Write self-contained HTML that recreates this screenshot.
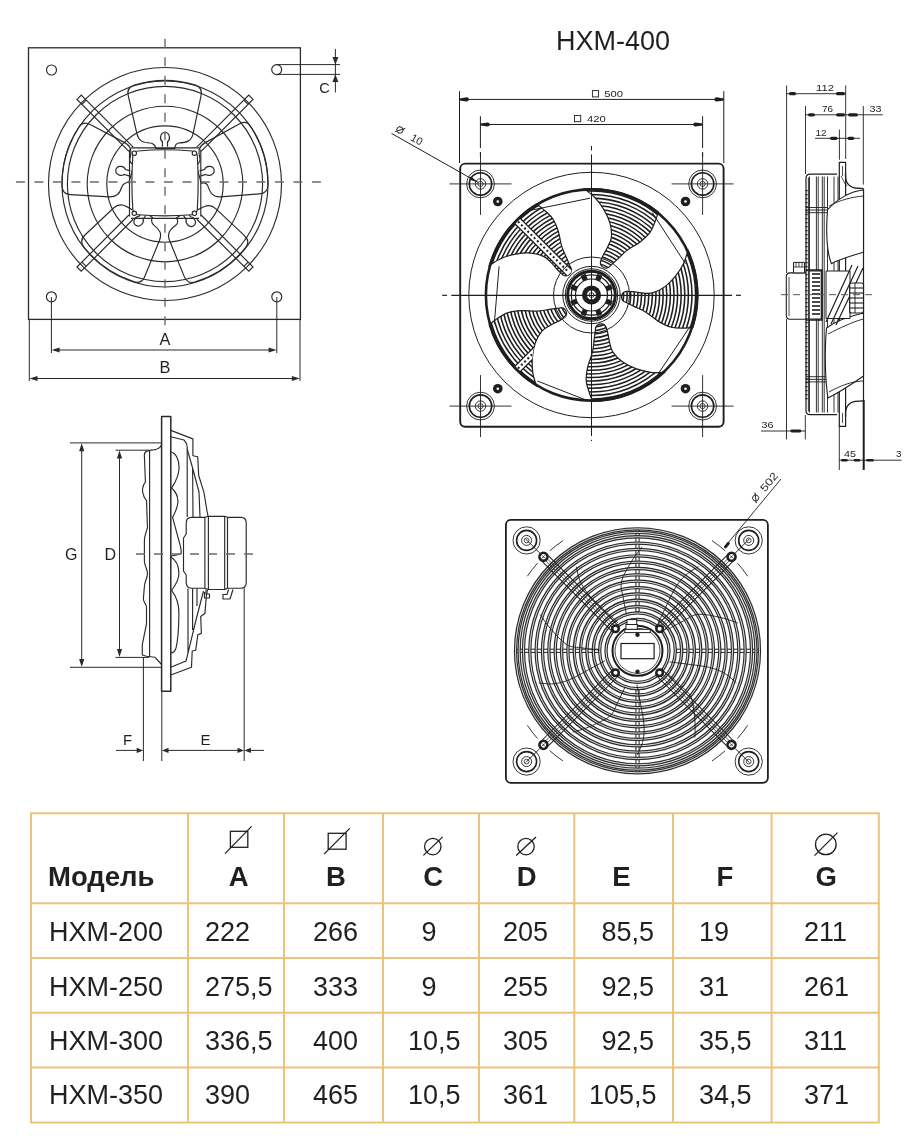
<!DOCTYPE html>
<html><head><meta charset="utf-8">
<style>
html,body{margin:0;padding:0;background:#fff;}
body{width:920px;height:1148px;overflow:hidden;position:relative;}
svg{position:absolute;left:0;top:0;will-change:transform;}
</style></head><body>
<svg width="920" height="1148" viewBox="0 0 920 1148">
<!-- title -->
<text x="556" y="50.2" font-family="Liberation Sans, sans-serif" font-size="27" fill="#231f20">HXM-400</text>
<!-- table -->
<g stroke="#ebc47c" stroke-width="2" fill="none">
<line x1="30" y1="813.2" x2="879.8" y2="813.2"/>
<line x1="30" y1="903.2" x2="879.8" y2="903.2"/>
<line x1="30" y1="958" x2="879.8" y2="958"/>
<line x1="30" y1="1012.8" x2="879.8" y2="1012.8"/>
<line x1="30" y1="1067.5" x2="879.8" y2="1067.5"/>
<line x1="30" y1="1122.5" x2="879.8" y2="1122.5"/>
<line x1="31" y1="813.2" x2="31" y2="1122.5"/>
<line x1="188" y1="813.2" x2="188" y2="1122.5"/>
<line x1="284" y1="813.2" x2="284" y2="1122.5"/>
<line x1="383" y1="813.2" x2="383" y2="1122.5"/>
<line x1="479" y1="813.2" x2="479" y2="1122.5"/>
<line x1="574.3" y1="813.2" x2="574.3" y2="1122.5"/>
<line x1="673" y1="813.2" x2="673" y2="1122.5"/>
<line x1="771.6" y1="813.2" x2="771.6" y2="1122.5"/>
<line x1="878.8" y1="813.2" x2="878.8" y2="1122.5"/>
</g>
<g font-family="Liberation Sans, sans-serif" font-size="27" fill="#231f20">
<text x="49" y="941">HXM-200</text>
<text x="205" y="941">222</text>
<text x="313" y="941">266</text>
<text x="421.5" y="941">9</text>
<text x="503" y="941">205</text>
<text x="601.5" y="941">85,5</text>
<text x="699" y="941">19</text>
<text x="804" y="941">211</text>
<text x="49" y="995.5">HXM-250</text>
<text x="205" y="995.5">275,5</text>
<text x="313" y="995.5">333</text>
<text x="421.5" y="995.5">9</text>
<text x="503" y="995.5">255</text>
<text x="601.5" y="995.5">92,5</text>
<text x="699" y="995.5">31</text>
<text x="804" y="995.5">261</text>
<text x="49" y="1050">HXM-300</text>
<text x="205" y="1050">336,5</text>
<text x="313" y="1050">400</text>
<text x="408" y="1050">10,5</text>
<text x="503" y="1050">305</text>
<text x="601.5" y="1050">92,5</text>
<text x="699" y="1050">35,5</text>
<text x="804" y="1050">311</text>
<text x="49" y="1104">HXM-350</text>
<text x="205" y="1104">390</text>
<text x="313" y="1104">465</text>
<text x="408" y="1104">10,5</text>
<text x="503" y="1104">361</text>
<text x="589" y="1104">105,5</text>
<text x="699" y="1104">34,5</text>
<text x="804" y="1104">371</text>
</g>
<g font-family="Liberation Sans, sans-serif" font-weight="bold" font-size="27.5" fill="#231f20">
<text x="48" y="886">Модель</text>
<text x="238.7" y="886" text-anchor="middle">A</text>
<text x="336" y="886" text-anchor="middle">B</text>
<text x="433.1" y="886" text-anchor="middle">C</text>
<text x="526.8" y="886" text-anchor="middle">D</text>
<text x="621.3" y="886" text-anchor="middle">E</text>
<text x="725" y="886" text-anchor="middle">F</text>
<text x="826.2" y="886" text-anchor="middle">G</text>
</g>
<g stroke="#231f20" stroke-width="1.3" fill="none">
<rect x="230.4" y="831.3" width="17.4" height="16"/><line x1="225" y1="853.6" x2="251.6" y2="826.4"/>
<rect x="328.2" y="833.3" width="17.9" height="15.9"/><line x1="324.1" y1="854.1" x2="349.7" y2="828.4"/>
<circle cx="432.8" cy="846.6" r="8.2"/><line x1="423.4" y1="855.4" x2="442.7" y2="836.9"/>
<circle cx="526" cy="846.6" r="8.2"/><line x1="516.2" y1="855.4" x2="536" y2="836.9"/>
<circle cx="825.8" cy="844.4" r="10.3"/><line x1="814.5" y1="855.6" x2="837.5" y2="832.6"/>
</g>
<!-- d1 -->
<g stroke="#2a2a2a" stroke-width="1.15" fill="none">
<rect x="28.5" y="47.8" width="271.9" height="271.6" stroke-width="1.3"/>
<circle cx="51.5" cy="70" r="5"/>
<circle cx="276.7" cy="69.6" r="5"/>
<circle cx="51.4" cy="296.8" r="5"/>
<circle cx="276.8" cy="296.8" r="5"/>
<circle cx="165" cy="184" r="116.5"/>
<circle cx="165" cy="184" r="103"/>
<circle cx="165" cy="184" r="97.6"/>
<circle cx="165" cy="184" r="77.8"/>
<circle cx="165" cy="184" r="58.2"/>
<g transform="translate(165,183.5) rotate(0) scale(1.02)"><path d="M -36,-86 Q -38,-94 -30,-96.4 A 101 101 0 0 1 30,-96.4 Q 37,-94 35.3,-86 L 27.5,-48.6 C 26,-42 22,-40 13,-39.7 C 11,-39 9.6,-37 9.6,-34.3 L -9,-34.3 C -9,-37 -12,-39.7 -14.4,-39.7 C -22,-40 -26,-42 -27.5,-48.6 Z"/><path d="M -2.5,-36 L -2.5,-41 C -5.5,-43 -5,-50 0,-50 C 5,-50 5.5,-43 2.5,-41 L 2.5,-36"/></g>
<g transform="translate(165,183.5) rotate(74) scale(1.02)"><path d="M -36,-86 Q -38,-94 -30,-96.4 A 101 101 0 0 1 30,-96.4 Q 37,-94 35.3,-86 L 27.5,-48.6 C 26,-42 22,-40 13,-39.7 C 11,-39 9.6,-37 9.6,-34.3 L -9,-34.3 C -9,-37 -12,-39.7 -14.4,-39.7 C -22,-40 -26,-42 -27.5,-48.6 Z"/><path d="M -2.5,-36 L -2.5,-41 C -5.5,-43 -5,-50 0,-50 C 5,-50 5.5,-43 2.5,-41 L 2.5,-36"/></g>
<g transform="translate(165,183.5) rotate(146) scale(1.02)"><path d="M -36,-86 Q -38,-94 -30,-96.4 A 101 101 0 0 1 30,-96.4 Q 37,-94 35.3,-86 L 27.5,-48.6 C 26,-42 22,-40 13,-39.7 C 11,-39 9.6,-37 9.6,-34.3 L -9,-34.3 C -9,-37 -12,-39.7 -14.4,-39.7 C -22,-40 -26,-42 -27.5,-48.6 Z"/><path d="M -2.5,-36 L -2.5,-41 C -5.5,-43 -5,-50 0,-50 C 5,-50 5.5,-43 2.5,-41 L 2.5,-36"/></g>
<g transform="translate(165,183.5) rotate(215) scale(1.02)"><path d="M -36,-86 Q -38,-94 -30,-96.4 A 101 101 0 0 1 30,-96.4 Q 37,-94 35.3,-86 L 27.5,-48.6 C 26,-42 22,-40 13,-39.7 C 11,-39 9.6,-37 9.6,-34.3 L -9,-34.3 C -9,-37 -12,-39.7 -14.4,-39.7 C -22,-40 -26,-42 -27.5,-48.6 Z"/><path d="M -2.5,-36 L -2.5,-41 C -5.5,-43 -5,-50 0,-50 C 5,-50 5.5,-43 2.5,-41 L 2.5,-36"/></g>
<g transform="translate(165,183.5) rotate(286) scale(1.02)"><path d="M -36,-86 Q -38,-94 -30,-96.4 A 101 101 0 0 1 30,-96.4 Q 37,-94 35.3,-86 L 27.5,-48.6 C 26,-42 22,-40 13,-39.7 C 11,-39 9.6,-37 9.6,-34.3 L -9,-34.3 C -9,-37 -12,-39.7 -14.4,-39.7 C -22,-40 -26,-42 -27.5,-48.6 Z"/><path d="M -2.5,-36 L -2.5,-41 C -5.5,-43 -5,-50 0,-50 C 5,-50 5.5,-43 2.5,-41 L 2.5,-36"/></g>
<g transform="translate(165,183.2) rotate(-45)"><path d="M -3,-48 L -3,-121.5 L 3,-121.5 L 3,-48" /><line x1="-3" y1="-114.5" x2="3" y2="-114.5"/></g>
<g transform="translate(165,183.2) rotate(45)"><path d="M -3,-48 L -3,-121.5 L 3,-121.5 L 3,-48" /><line x1="-3" y1="-114.5" x2="3" y2="-114.5"/></g>
<g transform="translate(165,183.2) rotate(135)"><path d="M -3,-48 L -3,-121.5 L 3,-121.5 L 3,-48" /><line x1="-3" y1="-114.5" x2="3" y2="-114.5"/></g>
<g transform="translate(165,183.2) rotate(225)"><path d="M -3,-48 L -3,-121.5 L 3,-121.5 L 3,-48" /><line x1="-3" y1="-114.5" x2="3" y2="-114.5"/></g>
<path d="M 131,147.8 L 199,147.8 M 131,218.4 L 199,218.4 M 129.5,149.5 L 129.5,216.5 M 200.8,149.5 L 200.8,216.5" fill="none"/>
<path d="M 138,151 Q 165,148.5 192,151 Q 197,151 197.3,156 Q 199,182 197.3,209 Q 197,214.5 192,214.7 Q 165,217 138,214.7 Q 133,214.5 132.8,209 Q 131,182 132.8,156 Q 133,151 138,151 Z" fill="#fff"/>
<circle cx="134.3" cy="153.2" r="2.2" fill="#fff"/>
<circle cx="194.4" cy="153.2" r="2.2" fill="#fff"/>
<circle cx="134.3" cy="213.3" r="2.2" fill="#fff"/>
<circle cx="194.4" cy="213.3" r="2.2" fill="#fff"/>
</g>
<g stroke="#6a6a6a" stroke-width="1.4" stroke-dasharray="9,9.5">
<line x1="165" y1="38.7" x2="165" y2="328"/>
<line x1="15.9" y1="182" x2="330" y2="182"/>
</g>
<g stroke="#2a2a2a" stroke-width="1" fill="none">
<path d="M 276.7,64.6 L 340,64.6 M 276.7,74.4 L 340,74.4"/>
<line x1="335.4" y1="49" x2="335.4" y2="92.5"/>
<line x1="51.4" y1="297" x2="51.4" y2="353"/><line x1="276.8" y1="297" x2="276.8" y2="353"/>
<line x1="54" y1="350" x2="274" y2="350"/>
<line x1="29.3" y1="319" x2="29.3" y2="381"/><line x1="300" y1="319" x2="300" y2="381"/>
<line x1="32" y1="378.5" x2="297" y2="378.5"/>
</g>
<g fill="#2a2a2a" stroke="none">
<path d="M 51.6,350 L 59.6,347.4 L 59.6,352.6 Z"/>
<path d="M 276.6,350 L 268.6,352.6 L 268.6,347.4 Z"/>
<path d="M 29.5,378.5 L 37.5,375.9 L 37.5,381.1 Z"/>
<path d="M 299.8,378.5 L 291.8,381.1 L 291.8,375.9 Z"/>
<path d="M 335.4,64.5 L 332.4,57.0 L 338.4,57.0 Z"/>
<path d="M 335.4,74.5 L 338.4,82.0 L 332.4,82.0 Z"/>
</g>
<g font-family="Liberation Sans, sans-serif" font-size="15" fill="#231f20">
<text x="165" y="345.1" text-anchor="middle" font-size="16.3">A</text>
<text x="165" y="373.1" text-anchor="middle" font-size="16.3">B</text>
<text x="324.4" y="92.8" text-anchor="middle" font-size="14.5">C</text>
</g>
<!-- d2 -->
<g stroke="#2a2a2a" stroke-width="1.15" fill="none" stroke-linejoin="round">
<rect x="161.6" y="416.6" width="9.2" height="274.7" stroke-width="1.5"/>
<path d="M 161.6,444.2 C 161,449 156,450 149.6,450.4 C 146,451 144,453 144.4,456 L 145.4,481.8 C 142,486 142,492 143.4,494.3 C 143.5,498 146,499 146.5,500.6 L 147.5,527.7 C 146,533 144.4,536 144.4,540.3 L 144.4,561 C 144.4,566 147.5,569 147.5,573.7 C 147.5,578 144.4,582 144.4,586.2 L 143.4,598.7 C 143.4,603 146.5,604 146.5,607.1 L 146.5,623.8 L 142.3,644.7 L 142.3,655 L 146.5,656.2 L 154.8,657.2 L 161.6,664.5"/>
<line x1="149.6" y1="450.4" x2="149.6" y2="657"/>
<path d="M 170.8,452 C 176,453 179.5,460 179,469 C 178.5,478 174,484 171.6,488 C 176,492 178.5,497 177.8,503 C 177,510 174,514 172.6,517.3 L 179.9,544.4 C 181,548 181.5,551 181,553.8 C 177,555 173,556 170.8,556"/>
<path d="M 170.8,557 C 176,560 179,566 178.9,573.7 C 178.8,581 174,587 171.6,590.4 C 176,596 179,604 178.9,613.4 C 178.8,625 178,640 176,648 C 175,651 173,653 170.8,653"/>
<path d="M 170.8,430.4 L 192.9,438.9 L 192.9,455.7 L 197.7,456.7 L 198.7,475.5 L 203.9,492.2 L 207,511 L 208.1,516.5"/>
<path d="M 170.8,436.8 L 184,440 C 186,442 187.2,444 187.2,447 L 187.2,517"/>
<path d="M 187.2,449 L 192.6,468 L 193,517 M 192.6,468 L 199,492 L 200,517"/>
<path d="M 207.5,589.5 L 206.3,596.6 L 204.9,613.6 L 200.7,616.4 L 201.4,633.4 L 197.8,634.8 L 195.7,650.3 L 192.2,651 L 191.5,667.3 L 170.8,675"/>
<path d="M 170.8,667.3 L 186,661 L 188,653.2 L 188,588.5 M 188,653.2 L 196,620 L 203.5,591 M 192.6,588.5 L 192.6,630 M 197,588.5 L 197,606"/>
<path d="M 191.5,517.3 L 204.9,517.3 L 204.9,588.2 L 191.5,588.2 C 188,588.2 186.2,586 186.2,582 L 186.2,575 L 183.5,571 L 183.5,538 L 186.2,534 L 186.2,523 C 186.2,519 188,517.3 191.5,517.3 Z"/>
<path d="M 204.9,517.3 L 208.4,516.3 L 224.7,516.3 L 227.5,517.3 L 241,517.3 C 244.5,517.3 246.2,519.5 246.2,523 L 246.2,582.5 C 246.2,586 244.5,588.2 241,588.2 L 227.5,588.2 L 224.7,589.5 L 208.4,589.5 L 204.9,588.2"/>
<path d="M 208.4,516.3 L 208.4,589.5 M 224.7,516.3 L 224.7,589.5 M 227.5,517.3 L 227.5,588.2"/>
<path d="M 206,589.5 L 206,594 L 209.5,594 L 209.5,598 L 204.5,598 L 204.5,592"/>
<path d="M 228.5,589.5 L 227,594.5 L 223,594.5 L 223,599 L 230,599 L 233,589.5"/>
</g>
<line x1="136" y1="554" x2="257" y2="554" stroke="#6a6a6a" stroke-width="1.4" stroke-dasharray="9,9"/>
<g stroke="#2a2a2a" stroke-width="1" fill="none">
<line x1="70" y1="442.9" x2="161.6" y2="442.9"/><line x1="70" y1="667.3" x2="161.6" y2="667.3"/>
<line x1="81.7" y1="446" x2="81.7" y2="664"/>
<line x1="115.5" y1="450.2" x2="149" y2="450.2"/><line x1="115.5" y1="657.4" x2="149" y2="657.4"/>
<line x1="119.5" y1="453" x2="119.5" y2="654"/>
<line x1="143.4" y1="657" x2="143.4" y2="761"/><line x1="161.8" y1="691" x2="161.8" y2="761"/><line x1="244.2" y1="588.2" x2="244.2" y2="761"/>
<line x1="116" y1="750.4" x2="140" y2="750.4"/><line x1="165" y1="750.4" x2="241" y2="750.4"/><line x1="247" y1="750.4" x2="264" y2="750.4"/>
</g>
<g fill="#2a2a2a" stroke="none">
<path d="M 81.7,443.2 L 84.3,451.2 L 79.10000000000001,451.2 Z"/>
<path d="M 81.7,667 L 79.10000000000001,659.0 L 84.3,659.0 Z"/>
<path d="M 119.5,450.5 L 122.1,458.5 L 116.9,458.5 Z"/>
<path d="M 119.5,657.1 L 116.9,649.1 L 122.1,649.1 Z"/>
<path d="M 143.2,750.4 L 136.7,753.1 L 136.7,747.6999999999999 Z"/>
<path d="M 162,750.4 L 168.5,747.6999999999999 L 168.5,753.1 Z"/>
<path d="M 244,750.4 L 237.5,753.1 L 237.5,747.6999999999999 Z"/>
<path d="M 244.4,750.4 L 250.9,747.6999999999999 L 250.9,753.1 Z"/>
</g>
<g font-family="Liberation Sans, sans-serif" font-size="15" fill="#231f20">
<text x="71.3" y="560.1" text-anchor="middle" font-size="16">G</text>
<text x="110.4" y="560.1" text-anchor="middle" font-size="16">D</text>
<text x="127.7" y="745" text-anchor="middle">F</text>
<text x="205.6" y="745" text-anchor="middle">E</text>
</g>
<!-- d3 -->
<defs>
<clipPath id="hz0"><path d="M 600.56,261.19 C 601.04,260.12 602.29,257.00 603.43,254.73 C 604.56,252.46 606.04,250.48 607.37,247.58 C 608.69,244.68 610.92,241.36 611.36,237.32 C 611.80,233.29 611.24,227.92 610.03,223.36 C 608.81,218.79 606.58,214.22 604.06,209.92 C 601.54,205.62 598.23,201.09 594.90,197.56 C 591.57,194.03 585.88,190.23 584.07,188.76 A 106.5 106.5 0 0 1 658.23,212.00 C 657.83,213.29 657.14,216.37 655.80,219.72 C 654.45,223.07 652.76,228.40 650.15,232.10 C 647.54,235.80 644.00,238.87 640.14,241.92 C 636.28,244.96 630.78,247.48 626.98,250.39 C 623.19,253.31 620.10,256.86 617.36,259.40 C 614.63,261.95 611.70,264.61 610.56,265.65 A 5.6 5.6 0 0 1 600.56,261.19 Z"/></clipPath>
<clipPath id="hz1"><path d="M 626.31,291.34 C 627.49,291.40 630.85,291.46 633.37,291.70 C 635.89,291.95 638.27,292.62 641.45,292.82 C 644.63,293.01 648.53,293.90 652.46,292.87 C 656.39,291.84 661.20,289.39 665.02,286.62 C 668.85,283.85 672.32,280.13 675.43,276.24 C 678.54,272.35 681.59,267.63 683.69,263.26 C 685.79,258.88 687.30,252.20 688.02,249.99 A 106.5 106.5 0 0 1 692.90,327.56 C 691.56,327.64 688.43,328.10 684.82,328.05 C 681.21,327.99 675.63,328.33 671.24,327.22 C 666.85,326.11 662.72,323.90 658.49,321.39 C 654.26,318.88 649.94,314.64 645.86,312.14 C 641.78,309.64 637.36,308.03 634.00,306.39 C 630.65,304.74 627.11,302.96 625.74,302.28 A 5.6 5.6 0 0 1 626.31,291.34 Z"/></clipPath>
<clipPath id="hz2"><path d="M 606.01,326.85 C 606.33,327.98 607.34,331.19 607.91,333.66 C 608.48,336.13 608.59,338.60 609.42,341.68 C 610.24,344.76 610.64,348.74 612.86,352.14 C 615.09,355.53 618.93,359.32 622.77,362.07 C 626.62,364.82 631.24,366.92 635.92,368.64 C 640.60,370.35 646.04,371.75 650.85,372.35 C 655.67,372.95 662.48,372.27 664.81,372.25 A 106.5 106.5 0 0 1 592.80,401.49 C 592.30,400.24 590.86,397.43 589.77,393.98 C 588.68,390.54 586.59,385.35 586.25,380.84 C 585.91,376.33 586.69,371.71 587.73,366.90 C 588.77,362.09 591.42,356.66 592.49,351.99 C 593.57,347.33 593.69,342.62 594.19,338.92 C 594.68,335.22 595.25,331.30 595.46,329.78 A 5.6 5.6 0 0 1 606.01,326.85 Z"/></clipPath>
<clipPath id="hz3"><path d="M 564.69,317.50 C 563.68,318.11 560.86,319.94 558.63,321.15 C 556.40,322.35 554.05,323.12 551.31,324.74 C 548.56,326.36 544.83,327.80 542.15,330.85 C 539.47,333.91 536.85,338.62 535.23,343.06 C 533.61,347.50 532.81,352.52 532.41,357.49 C 532.01,362.45 532.12,368.07 532.82,372.87 C 533.53,377.67 536.01,384.05 536.65,386.29 A 106.5 106.5 0 0 1 489.23,324.71 C 490.30,323.89 492.63,321.76 495.65,319.79 C 498.68,317.82 503.12,314.41 507.38,312.88 C 511.64,311.35 516.30,310.87 521.21,310.58 C 526.12,310.30 532.07,311.40 536.85,311.19 C 541.63,310.98 546.20,309.84 549.90,309.32 C 553.60,308.81 557.52,308.31 559.05,308.11 A 5.6 5.6 0 0 1 564.69,317.50 Z"/></clipPath>
<clipPath id="hz4"><path d="M 562.83,274.92 C 561.98,274.11 559.48,271.86 557.74,270.02 C 555.99,268.18 554.64,266.11 552.37,263.87 C 550.10,261.64 547.74,258.41 544.09,256.61 C 540.45,254.81 535.22,253.51 530.51,253.09 C 525.81,252.67 520.75,253.20 515.85,254.10 C 510.95,254.99 505.55,256.55 501.10,258.48 C 496.65,260.40 491.12,264.45 489.13,265.64 A 106.5 106.5 0 0 1 536.33,203.90 C 537.40,204.73 540.06,206.42 542.75,208.83 C 545.44,211.25 549.87,214.66 552.46,218.37 C 555.04,222.09 556.71,226.46 558.25,231.14 C 559.80,235.81 560.28,241.83 561.72,246.40 C 563.16,250.96 565.44,255.08 566.90,258.52 C 568.35,261.96 569.85,265.63 570.44,267.05 A 5.6 5.6 0 0 1 562.83,274.92 Z"/></clipPath>
</defs>
<rect x="460.2" y="163.6" width="263.4" height="263.1" rx="5" ry="5" fill="none" stroke="#1e1e1e" stroke-width="1.9"/>
<g stroke="#1e1e1e" fill="none">
<circle cx="591.5" cy="295.0" r="122.7" stroke-width="1"/>
<g clip-path="url(#hz0)" stroke-width="1.55"><circle cx="591.5" cy="295.0" r="28.5"/><circle cx="591.5" cy="295.0" r="32.1"/><circle cx="591.5" cy="295.0" r="35.7"/><circle cx="591.5" cy="295.0" r="39.3"/><circle cx="591.5" cy="295.0" r="42.9"/><circle cx="591.5" cy="295.0" r="46.5"/><circle cx="591.5" cy="295.0" r="50.1"/><circle cx="591.5" cy="295.0" r="53.7"/><circle cx="591.5" cy="295.0" r="57.3"/><circle cx="591.5" cy="295.0" r="60.9"/><circle cx="591.5" cy="295.0" r="64.5"/><circle cx="591.5" cy="295.0" r="68.1"/><circle cx="591.5" cy="295.0" r="71.7"/><circle cx="591.5" cy="295.0" r="75.3"/><circle cx="591.5" cy="295.0" r="78.9"/><circle cx="591.5" cy="295.0" r="82.5"/><circle cx="591.5" cy="295.0" r="86.1"/><circle cx="591.5" cy="295.0" r="89.7"/><circle cx="591.5" cy="295.0" r="93.3"/><circle cx="591.5" cy="295.0" r="96.9"/><circle cx="591.5" cy="295.0" r="100.5"/><circle cx="591.5" cy="295.0" r="104.1"/><circle cx="591.5" cy="295.0" r="107.7"/></g>
<g clip-path="url(#hz1)" stroke-width="1.55"><circle cx="591.5" cy="295.0" r="28.5"/><circle cx="591.5" cy="295.0" r="32.1"/><circle cx="591.5" cy="295.0" r="35.7"/><circle cx="591.5" cy="295.0" r="39.3"/><circle cx="591.5" cy="295.0" r="42.9"/><circle cx="591.5" cy="295.0" r="46.5"/><circle cx="591.5" cy="295.0" r="50.1"/><circle cx="591.5" cy="295.0" r="53.7"/><circle cx="591.5" cy="295.0" r="57.3"/><circle cx="591.5" cy="295.0" r="60.9"/><circle cx="591.5" cy="295.0" r="64.5"/><circle cx="591.5" cy="295.0" r="68.1"/><circle cx="591.5" cy="295.0" r="71.7"/><circle cx="591.5" cy="295.0" r="75.3"/><circle cx="591.5" cy="295.0" r="78.9"/><circle cx="591.5" cy="295.0" r="82.5"/><circle cx="591.5" cy="295.0" r="86.1"/><circle cx="591.5" cy="295.0" r="89.7"/><circle cx="591.5" cy="295.0" r="93.3"/><circle cx="591.5" cy="295.0" r="96.9"/><circle cx="591.5" cy="295.0" r="100.5"/><circle cx="591.5" cy="295.0" r="104.1"/><circle cx="591.5" cy="295.0" r="107.7"/></g>
<g clip-path="url(#hz2)" stroke-width="1.55"><circle cx="591.5" cy="295.0" r="28.5"/><circle cx="591.5" cy="295.0" r="32.1"/><circle cx="591.5" cy="295.0" r="35.7"/><circle cx="591.5" cy="295.0" r="39.3"/><circle cx="591.5" cy="295.0" r="42.9"/><circle cx="591.5" cy="295.0" r="46.5"/><circle cx="591.5" cy="295.0" r="50.1"/><circle cx="591.5" cy="295.0" r="53.7"/><circle cx="591.5" cy="295.0" r="57.3"/><circle cx="591.5" cy="295.0" r="60.9"/><circle cx="591.5" cy="295.0" r="64.5"/><circle cx="591.5" cy="295.0" r="68.1"/><circle cx="591.5" cy="295.0" r="71.7"/><circle cx="591.5" cy="295.0" r="75.3"/><circle cx="591.5" cy="295.0" r="78.9"/><circle cx="591.5" cy="295.0" r="82.5"/><circle cx="591.5" cy="295.0" r="86.1"/><circle cx="591.5" cy="295.0" r="89.7"/><circle cx="591.5" cy="295.0" r="93.3"/><circle cx="591.5" cy="295.0" r="96.9"/><circle cx="591.5" cy="295.0" r="100.5"/><circle cx="591.5" cy="295.0" r="104.1"/><circle cx="591.5" cy="295.0" r="107.7"/></g>
<g clip-path="url(#hz3)" stroke-width="1.55"><circle cx="591.5" cy="295.0" r="28.5"/><circle cx="591.5" cy="295.0" r="32.1"/><circle cx="591.5" cy="295.0" r="35.7"/><circle cx="591.5" cy="295.0" r="39.3"/><circle cx="591.5" cy="295.0" r="42.9"/><circle cx="591.5" cy="295.0" r="46.5"/><circle cx="591.5" cy="295.0" r="50.1"/><circle cx="591.5" cy="295.0" r="53.7"/><circle cx="591.5" cy="295.0" r="57.3"/><circle cx="591.5" cy="295.0" r="60.9"/><circle cx="591.5" cy="295.0" r="64.5"/><circle cx="591.5" cy="295.0" r="68.1"/><circle cx="591.5" cy="295.0" r="71.7"/><circle cx="591.5" cy="295.0" r="75.3"/><circle cx="591.5" cy="295.0" r="78.9"/><circle cx="591.5" cy="295.0" r="82.5"/><circle cx="591.5" cy="295.0" r="86.1"/><circle cx="591.5" cy="295.0" r="89.7"/><circle cx="591.5" cy="295.0" r="93.3"/><circle cx="591.5" cy="295.0" r="96.9"/><circle cx="591.5" cy="295.0" r="100.5"/><circle cx="591.5" cy="295.0" r="104.1"/><circle cx="591.5" cy="295.0" r="107.7"/></g>
<g clip-path="url(#hz4)" stroke-width="1.55"><circle cx="591.5" cy="295.0" r="28.5"/><circle cx="591.5" cy="295.0" r="32.1"/><circle cx="591.5" cy="295.0" r="35.7"/><circle cx="591.5" cy="295.0" r="39.3"/><circle cx="591.5" cy="295.0" r="42.9"/><circle cx="591.5" cy="295.0" r="46.5"/><circle cx="591.5" cy="295.0" r="50.1"/><circle cx="591.5" cy="295.0" r="53.7"/><circle cx="591.5" cy="295.0" r="57.3"/><circle cx="591.5" cy="295.0" r="60.9"/><circle cx="591.5" cy="295.0" r="64.5"/><circle cx="591.5" cy="295.0" r="68.1"/><circle cx="591.5" cy="295.0" r="71.7"/><circle cx="591.5" cy="295.0" r="75.3"/><circle cx="591.5" cy="295.0" r="78.9"/><circle cx="591.5" cy="295.0" r="82.5"/><circle cx="591.5" cy="295.0" r="86.1"/><circle cx="591.5" cy="295.0" r="89.7"/><circle cx="591.5" cy="295.0" r="93.3"/><circle cx="591.5" cy="295.0" r="96.9"/><circle cx="591.5" cy="295.0" r="100.5"/><circle cx="591.5" cy="295.0" r="104.1"/><circle cx="591.5" cy="295.0" r="107.7"/></g>
<path d="M 600.56,261.19 C 601.04,260.12 602.29,257.00 603.43,254.73 C 604.56,252.46 606.04,250.48 607.37,247.58 C 608.69,244.68 610.92,241.36 611.36,237.32 C 611.80,233.29 611.24,227.92 610.03,223.36 C 608.81,218.79 606.58,214.22 604.06,209.92 C 601.54,205.62 598.23,201.09 594.90,197.56 C 591.57,194.03 585.88,190.23 584.07,188.76 A 106.5 106.5 0 0 1 658.23,212.00 C 657.83,213.29 657.14,216.37 655.80,219.72 C 654.45,223.07 652.76,228.40 650.15,232.10 C 647.54,235.80 644.00,238.87 640.14,241.92 C 636.28,244.96 630.78,247.48 626.98,250.39 C 623.19,253.31 620.10,256.86 617.36,259.40 C 614.63,261.95 611.70,264.61 610.56,265.65 A 5.6 5.6 0 0 1 600.56,261.19 Z" stroke-width="1.2"/>
<path d="M 626.31,291.34 C 627.49,291.40 630.85,291.46 633.37,291.70 C 635.89,291.95 638.27,292.62 641.45,292.82 C 644.63,293.01 648.53,293.90 652.46,292.87 C 656.39,291.84 661.20,289.39 665.02,286.62 C 668.85,283.85 672.32,280.13 675.43,276.24 C 678.54,272.35 681.59,267.63 683.69,263.26 C 685.79,258.88 687.30,252.20 688.02,249.99 A 106.5 106.5 0 0 1 692.90,327.56 C 691.56,327.64 688.43,328.10 684.82,328.05 C 681.21,327.99 675.63,328.33 671.24,327.22 C 666.85,326.11 662.72,323.90 658.49,321.39 C 654.26,318.88 649.94,314.64 645.86,312.14 C 641.78,309.64 637.36,308.03 634.00,306.39 C 630.65,304.74 627.11,302.96 625.74,302.28 A 5.6 5.6 0 0 1 626.31,291.34 Z" stroke-width="1.2"/>
<path d="M 606.01,326.85 C 606.33,327.98 607.34,331.19 607.91,333.66 C 608.48,336.13 608.59,338.60 609.42,341.68 C 610.24,344.76 610.64,348.74 612.86,352.14 C 615.09,355.53 618.93,359.32 622.77,362.07 C 626.62,364.82 631.24,366.92 635.92,368.64 C 640.60,370.35 646.04,371.75 650.85,372.35 C 655.67,372.95 662.48,372.27 664.81,372.25 A 106.5 106.5 0 0 1 592.80,401.49 C 592.30,400.24 590.86,397.43 589.77,393.98 C 588.68,390.54 586.59,385.35 586.25,380.84 C 585.91,376.33 586.69,371.71 587.73,366.90 C 588.77,362.09 591.42,356.66 592.49,351.99 C 593.57,347.33 593.69,342.62 594.19,338.92 C 594.68,335.22 595.25,331.30 595.46,329.78 A 5.6 5.6 0 0 1 606.01,326.85 Z" stroke-width="1.2"/>
<path d="M 564.69,317.50 C 563.68,318.11 560.86,319.94 558.63,321.15 C 556.40,322.35 554.05,323.12 551.31,324.74 C 548.56,326.36 544.83,327.80 542.15,330.85 C 539.47,333.91 536.85,338.62 535.23,343.06 C 533.61,347.50 532.81,352.52 532.41,357.49 C 532.01,362.45 532.12,368.07 532.82,372.87 C 533.53,377.67 536.01,384.05 536.65,386.29 A 106.5 106.5 0 0 1 489.23,324.71 C 490.30,323.89 492.63,321.76 495.65,319.79 C 498.68,317.82 503.12,314.41 507.38,312.88 C 511.64,311.35 516.30,310.87 521.21,310.58 C 526.12,310.30 532.07,311.40 536.85,311.19 C 541.63,310.98 546.20,309.84 549.90,309.32 C 553.60,308.81 557.52,308.31 559.05,308.11 A 5.6 5.6 0 0 1 564.69,317.50 Z" stroke-width="1.2"/>
<path d="M 562.83,274.92 C 561.98,274.11 559.48,271.86 557.74,270.02 C 555.99,268.18 554.64,266.11 552.37,263.87 C 550.10,261.64 547.74,258.41 544.09,256.61 C 540.45,254.81 535.22,253.51 530.51,253.09 C 525.81,252.67 520.75,253.20 515.85,254.10 C 510.95,254.99 505.55,256.55 501.10,258.48 C 496.65,260.40 491.12,264.45 489.13,265.64 A 106.5 106.5 0 0 1 536.33,203.90 C 537.40,204.73 540.06,206.42 542.75,208.83 C 545.44,211.25 549.87,214.66 552.46,218.37 C 555.04,222.09 556.71,226.46 558.25,231.14 C 559.80,235.81 560.28,241.83 561.72,246.40 C 563.16,250.96 565.44,255.08 566.90,258.52 C 568.35,261.96 569.85,265.63 570.44,267.05 A 5.6 5.6 0 0 1 562.83,274.92 Z" stroke-width="1.2"/>
<g clip-path="url(#hz4)"><g transform="translate(591.5,295.0) rotate(-45)"><rect x="-3.8" y="-106" width="7.6" height="76" fill="#fff" stroke-width="1.3"/><line x1="0" y1="-104" x2="0" y2="-32" stroke="#1e1e1e" stroke-width="2" stroke-dasharray="2,2.5"/></g></g>
<g clip-path="url(#hz3)"><g transform="translate(591.5,295.0) rotate(225)"><rect x="-3.8" y="-106" width="7.6" height="76" fill="#fff" stroke-width="1.3"/><line x1="0" y1="-104" x2="0" y2="-32" stroke="#1e1e1e" stroke-width="2" stroke-dasharray="2,2.5"/></g></g>
<line x1="531.4" y1="210.1" x2="590" y2="198.2" stroke-width="1"/>
<line x1="652.2" y1="212.5" x2="685.6" y2="263.9" stroke-width="1"/>
<line x1="690.4" y1="326" x2="658.1" y2="373.9" stroke-width="1"/>
<line x1="586.4" y1="400.2" x2="537.4" y2="381" stroke-width="1"/>
<line x1="494.3" y1="323.7" x2="499.1" y2="266.3" stroke-width="1"/>
<circle cx="591.5" cy="295.0" r="105.6" stroke-width="2.6"/>
<circle cx="591.5" cy="295.0" r="38" stroke-width="1"/>
<circle cx="591.5" cy="295.0" r="28.7" fill="#fff" stroke-width="1"/>
<circle cx="591.5" cy="295.0" r="26.2" stroke-width="1"/>
<circle cx="591.5" cy="295.0" r="23.8" stroke-width="3"/>
<circle cx="591.5" cy="295.0" r="20.2" stroke-width="1.2"/>
<g transform="translate(591.5,295.0) rotate(22.5)"><rect x="-2.6" y="-22" width="5.2" height="6" fill="#1e1e1e" stroke="none"/></g>
<g transform="translate(591.5,295.0) rotate(67.5)"><rect x="-2.6" y="-22" width="5.2" height="6" fill="#1e1e1e" stroke="none"/></g>
<g transform="translate(591.5,295.0) rotate(112.5)"><rect x="-2.6" y="-22" width="5.2" height="6" fill="#1e1e1e" stroke="none"/></g>
<g transform="translate(591.5,295.0) rotate(157.5)"><rect x="-2.6" y="-22" width="5.2" height="6" fill="#1e1e1e" stroke="none"/></g>
<g transform="translate(591.5,295.0) rotate(202.5)"><rect x="-2.6" y="-22" width="5.2" height="6" fill="#1e1e1e" stroke="none"/></g>
<g transform="translate(591.5,295.0) rotate(247.5)"><rect x="-2.6" y="-22" width="5.2" height="6" fill="#1e1e1e" stroke="none"/></g>
<g transform="translate(591.5,295.0) rotate(292.5)"><rect x="-2.6" y="-22" width="5.2" height="6" fill="#1e1e1e" stroke="none"/></g>
<g transform="translate(591.5,295.0) rotate(337.5)"><rect x="-2.6" y="-22" width="5.2" height="6" fill="#1e1e1e" stroke="none"/></g>
<circle cx="591.5" cy="295.0" r="16" stroke-width="1.2"/>
<circle cx="591.5" cy="295.0" r="9.5" fill="#1e1e1e" stroke="none"/>
<circle cx="591.5" cy="295.0" r="5" fill="#fff" stroke-width="0.9"/>
<circle cx="591.5" cy="295.0" r="2.5" stroke-width="0.8"/>
</g>
<g stroke="#1e1e1e" stroke-width="1">
<line x1="451.3" y1="295.3" x2="732" y2="295.3" stroke-width="1.2"/><line x1="442.2" y1="295.3" x2="447.1" y2="295.3" stroke-width="1.2"/><line x1="736" y1="295.3" x2="741" y2="295.3" stroke-width="1.2"/>
<line x1="591.5" y1="154.4" x2="591.5" y2="436"/><line x1="591.5" y1="146" x2="591.5" y2="150.5"/><line x1="591.5" y1="439.8" x2="591.5" y2="441"/>
</g>
<g stroke="#1e1e1e" fill="none"><circle cx="480.5" cy="183.9" r="13.9" stroke-width="0.9"/><circle cx="480.5" cy="183.9" r="11.2" stroke-width="1.6"/><circle cx="480.5" cy="183.9" r="5.2" stroke-width="0.9"/><circle cx="480.5" cy="183.9" r="2.6" stroke-width="0.8"/><line x1="449.5" y1="183.9" x2="511.5" y2="183.9" stroke-width="0.9"/><line x1="480.5" y1="152.9" x2="480.5" y2="214.9" stroke-width="0.9"/></g>
<g stroke="#1e1e1e" fill="none"><circle cx="702.6" cy="183.9" r="13.9" stroke-width="0.9"/><circle cx="702.6" cy="183.9" r="11.2" stroke-width="1.6"/><circle cx="702.6" cy="183.9" r="5.2" stroke-width="0.9"/><circle cx="702.6" cy="183.9" r="2.6" stroke-width="0.8"/><line x1="671.6" y1="183.9" x2="733.6" y2="183.9" stroke-width="0.9"/><line x1="702.6" y1="152.9" x2="702.6" y2="214.9" stroke-width="0.9"/></g>
<g stroke="#1e1e1e" fill="none"><circle cx="480.5" cy="406.1" r="13.9" stroke-width="0.9"/><circle cx="480.5" cy="406.1" r="11.2" stroke-width="1.6"/><circle cx="480.5" cy="406.1" r="5.2" stroke-width="0.9"/><circle cx="480.5" cy="406.1" r="2.6" stroke-width="0.8"/><line x1="449.5" y1="406.1" x2="511.5" y2="406.1" stroke-width="0.9"/><line x1="480.5" y1="375.1" x2="480.5" y2="437.1" stroke-width="0.9"/></g>
<g stroke="#1e1e1e" fill="none"><circle cx="702.6" cy="406.1" r="13.9" stroke-width="0.9"/><circle cx="702.6" cy="406.1" r="11.2" stroke-width="1.6"/><circle cx="702.6" cy="406.1" r="5.2" stroke-width="0.9"/><circle cx="702.6" cy="406.1" r="2.6" stroke-width="0.8"/><line x1="671.6" y1="406.1" x2="733.6" y2="406.1" stroke-width="0.9"/><line x1="702.6" y1="375.1" x2="702.6" y2="437.1" stroke-width="0.9"/></g>
<circle cx="497.8" cy="201.5" r="4.8" fill="#1e1e1e"/><circle cx="497.8" cy="201.5" r="1.3" fill="#fff"/>
<circle cx="685.5" cy="201.5" r="4.8" fill="#1e1e1e"/><circle cx="685.5" cy="201.5" r="1.3" fill="#fff"/>
<circle cx="497.8" cy="388.7" r="4.8" fill="#1e1e1e"/><circle cx="497.8" cy="388.7" r="1.3" fill="#fff"/>
<circle cx="685.5" cy="388.7" r="4.8" fill="#1e1e1e"/><circle cx="685.5" cy="388.7" r="1.3" fill="#fff"/>
<g stroke="#1e1e1e" stroke-width="1" fill="none">
<line x1="459.5" y1="91.2" x2="459.5" y2="163"/><line x1="723.8" y1="91.2" x2="723.8" y2="163"/>
<line x1="459.5" y1="99.4" x2="723.8" y2="99.4"/>
<line x1="480.4" y1="116.2" x2="480.4" y2="148"/><line x1="702.6" y1="116.2" x2="702.6" y2="148"/><line x1="480.4" y1="152" x2="480.4" y2="157"/><line x1="702.6" y1="152" x2="702.6" y2="157"/>
<line x1="480.4" y1="124.5" x2="702.6" y2="124.5"/>
<line x1="391.5" y1="133.4" x2="478" y2="182.4"/>
</g>
<g fill="#1e1e1e" stroke="none">
<path d="M 459.5,98.4 L 466.7,97.30000000000001 Q 468.9,97.30000000000001 468.9,99.4 Q 468.9,101.5 466.7,101.5 L 459.5,100.4 Z"/>
<path d="M 723.8,98.4 L 716.5999999999999,97.30000000000001 Q 714.4,97.30000000000001 714.4,99.4 Q 714.4,101.5 716.5999999999999,101.5 L 723.8,100.4 Z"/>
<path d="M 480.4,123.5 L 487.59999999999997,122.4 Q 489.79999999999995,122.4 489.79999999999995,124.5 Q 489.79999999999995,126.6 487.59999999999997,126.6 L 480.4,125.5 Z"/>
<path d="M 702.6,123.5 L 695.4,122.4 Q 693.2,122.4 693.2,124.5 Q 693.2,126.6 695.4,126.6 L 702.6,125.5 Z"/>
<g transform="translate(478,182.4) rotate(29.6)"><path d="M 0,0 L -9,-1.8 Q -10,0 -9,1.8 Z"/></g>
</g>
<g font-family="Liberation Sans, sans-serif" font-size="9.5" fill="#1e1e1e">
<rect x="592.4" y="90.6" width="6.2" height="6.3" fill="none" stroke="#1e1e1e" stroke-width="0.9"/>
<text x="604.3" y="97.2" textLength="18.7" lengthAdjust="spacingAndGlyphs">500</text>
<rect x="574.5" y="115.4" width="6.2" height="6.3" fill="none" stroke="#1e1e1e" stroke-width="0.9"/>
<text x="587" y="121.9" textLength="18.7" lengthAdjust="spacingAndGlyphs">420</text>
<g transform="translate(395,131.4) rotate(29.6)" font-size="10.5"><circle cx="3.6" cy="-3.6" r="3.1" fill="none" stroke="#1e1e1e" stroke-width="0.9"/><line x1="0" y1="0.2" x2="7.4" y2="-7.6" stroke="#1e1e1e" stroke-width="0.9"/><text x="17" y="0" textLength="12" lengthAdjust="spacingAndGlyphs">10</text></g>
</g>
<!-- d4 -->
<g stroke="#1e1e1e" stroke-width="1" fill="none" stroke-linejoin="round">
<path d="M 837,174.2 L 810,174.2 Q 806,174.2 806,178.5 L 806,410.5 Q 806,414.6 810,414.6 L 837,414.6" stroke-width="1.2"/>
<path d="M 808.4,177.5 L 808.4,411.5" stroke-width="0.9"/>
<path d="M 806.5,190 L 806.5,400" stroke-width="2.2" stroke-dasharray="1.2,2.8"/>
<line x1="809.5" y1="176.5" x2="809.5" y2="412.5" stroke-width="0.9"/>
<line x1="816.4" y1="176.5" x2="816.4" y2="412.5" stroke-width="0.9"/>
<line x1="818.2" y1="176.5" x2="818.2" y2="412.5" stroke-width="0.9"/>
<line x1="822.3" y1="176.5" x2="822.3" y2="412.5" stroke-width="0.9"/>
<line x1="824.2" y1="176.5" x2="824.2" y2="412.5" stroke-width="0.9"/>
<line x1="827.5" y1="176.5" x2="827.5" y2="412.5" stroke-width="0.9"/>
<line x1="834" y1="176.5" x2="834" y2="412.5" stroke-width="0.9"/>
<line x1="838" y1="176.5" x2="838" y2="412.5" stroke-width="0.9"/>
<line x1="806" y1="207.5" x2="828" y2="207.5" stroke-width="0.9"/><line x1="806" y1="381.9" x2="828" y2="381.9" stroke-width="0.9"/>
<line x1="806" y1="210" x2="828" y2="210" stroke-width="0.9"/><line x1="806" y1="379.4" x2="828" y2="379.4" stroke-width="0.9"/>
<line x1="806" y1="212.7" x2="828" y2="212.7" stroke-width="0.9"/><line x1="806" y1="376.7" x2="828" y2="376.7" stroke-width="0.9"/>
<rect x="839.3" y="162.4" width="6.3" height="264" stroke-width="1.2" fill="#fff"/>
<line x1="842.5" y1="166" x2="842.5" y2="176" stroke-width="0.8"/><line x1="842.5" y1="413" x2="842.5" y2="423" stroke-width="0.8"/>
<path d="M 845.6,172.9 C 845,180 847,186.5 855,188 L 863.5,188.6" stroke-width="1.3"/>
<path d="M 845.6,416.5 C 845,409.4 847,402.9 855,401.4 L 863.5,400.79999999999995" stroke-width="1.3"/>
<path d="M 841,176 C 843,178 844,184 847,186" stroke-width="0.8"/>
<line x1="863.5" y1="188.6" x2="863.5" y2="400.8" stroke-width="1.2"/>
<path d="M 863.5,190 C 850,191 836,200 827.5,210 C 826,230 826,250 831.4,263.7 C 840,259 852,256 863.5,252 Z" stroke-width="1.1" fill="#fff"/>
<path d="M 829,206 C 840,200 852,197 863.5,196" stroke-width="0.9"/>
<path d="M 863.5,313 C 850,316 836,321 826.5,328 C 824.5,350 825,380 828,398 C 840,392 852,384 863.5,376 Z" stroke-width="1.1" fill="#fff"/>
<path d="M 828,334 C 840,328 852,322 863.5,319" stroke-width="0.9"/>
<path d="M 829,392 C 840,386 852,381 863.5,381" stroke-width="0.9"/>
<rect x="826" y="271" width="24" height="47.5" stroke-width="1" fill="#fff"/>
<path d="M 826,322 L 852,265 M 831,324 L 858,266 M 836,325 L 863,268" stroke-width="1.2"/>
<rect x="849.7" y="283" width="13.8" height="30" rx="2" stroke-width="1.2" fill="#fff"/>
<line x1="850" y1="288" x2="863" y2="288" stroke-width="1.1"/>
<line x1="850" y1="293" x2="863" y2="293" stroke-width="1.1"/>
<line x1="850" y1="298" x2="863" y2="298" stroke-width="1.1"/>
<line x1="850" y1="303" x2="863" y2="303" stroke-width="1.1"/>
<line x1="850" y1="308" x2="863" y2="308" stroke-width="1.1"/>
<line x1="855" y1="283" x2="855" y2="313" stroke-width="0.9"/>
<rect x="809.2" y="271" width="12" height="48" stroke-width="1" fill="#fff"/>
<line x1="812" y1="274" x2="820" y2="274" stroke-width="1.6"/>
<line x1="812" y1="278" x2="820" y2="278" stroke-width="1.6"/>
<line x1="812" y1="282" x2="820" y2="282" stroke-width="1.6"/>
<line x1="812" y1="286" x2="820" y2="286" stroke-width="1.6"/>
<line x1="812" y1="290" x2="820" y2="290" stroke-width="1.6"/>
<line x1="812" y1="294" x2="820" y2="294" stroke-width="1.6"/>
<line x1="812" y1="298" x2="820" y2="298" stroke-width="1.6"/>
<line x1="812" y1="302" x2="820" y2="302" stroke-width="1.6"/>
<line x1="812" y1="306" x2="820" y2="306" stroke-width="1.6"/>
<line x1="812" y1="310" x2="820" y2="310" stroke-width="1.6"/>
<line x1="812" y1="314" x2="820" y2="314" stroke-width="1.6"/>
<path d="M 806,270 L 822,270 L 822,320 L 806,320" stroke-width="1.6"/>
<path d="M 806,272.9 L 790,272.9 Q 786.3,272.9 786.3,277 L 786.3,315.2 Q 786.3,319.2 790,319.2 L 806,319.2" stroke-width="1.1"/>
<rect x="793.5" y="262.4" width="11" height="10.5" stroke-width="1" fill="#fff"/>
<line x1="796" y1="262.4" x2="796" y2="267" stroke-width="0.8"/><line x1="799" y1="262.4" x2="799" y2="267" stroke-width="0.8"/><line x1="802" y1="262.4" x2="802" y2="267" stroke-width="0.8"/><line x1="793.5" y1="267" x2="804.5" y2="267" stroke-width="0.8"/>
<line x1="789" y1="277" x2="789" y2="316" stroke-width="0.8"/>
</g>
<line x1="781" y1="294.7" x2="877" y2="294.7" stroke="#555" stroke-width="1" stroke-dasharray="7,5"/>
<g stroke="#1e1e1e" stroke-width="0.9" fill="none">
<line x1="786.6" y1="85.4" x2="786.6" y2="273"/><line x1="786.5" y1="319.2" x2="786.5" y2="439.4"/>
<line x1="845.7" y1="85.4" x2="845.7" y2="159"/>
<line x1="805.5" y1="106" x2="805.5" y2="174"/><line x1="805.3" y1="415" x2="805.3" y2="439.4"/>
<line x1="863.3" y1="106" x2="863.3" y2="184.6"/>
<line x1="839.4" y1="129.5" x2="839.4" y2="159.8"/>
<line x1="786.6" y1="93.7" x2="845.7" y2="93.7"/>
<line x1="805.5" y1="114.8" x2="882.8" y2="114.8"/>
<line x1="815" y1="138.3" x2="860" y2="138.3"/>
<line x1="761" y1="431" x2="805.5" y2="431"/>
<line x1="839.3" y1="426.4" x2="839.3" y2="470"/><line x1="863.7" y1="400" x2="863.7" y2="470" stroke-width="2"/>
<line x1="839.3" y1="460.2" x2="901.6" y2="460.2"/>
</g>
<g fill="#1e1e1e" stroke="none">
<rect x="789" y="92.10000000000001" width="7" height="3.2" rx="1.6"/>
<rect x="836" y="92.10000000000001" width="9" height="3.2" rx="1.6"/>
<rect x="808" y="113.2" width="7" height="3.2" rx="1.6"/>
<rect x="836" y="113.2" width="9" height="3.2" rx="1.6"/>
<rect x="848" y="113.2" width="10" height="3.2" rx="1.6"/>
<rect x="830" y="136.70000000000002" width="7.600000000000023" height="3.2" rx="1.6"/>
<rect x="847.5" y="136.70000000000002" width="6.7999999999999545" height="3.2" rx="1.6"/>
<rect x="790.4" y="429.6" width="10.899999999999977" height="2.8" rx="1.4"/>
<rect x="841" y="458.9" width="6.7000000000000455" height="2.6" rx="1.3"/>
<rect x="853.6" y="458.9" width="6.699999999999932" height="2.6" rx="1.3"/>
<rect x="866.2" y="458.9" width="7.599999999999909" height="2.6" rx="1.3"/>
</g>
<g font-family="Liberation Sans, sans-serif" font-size="9" fill="#1e1e1e">
<text x="816" y="91" textLength="18" lengthAdjust="spacingAndGlyphs">112</text>
<text x="822" y="112" textLength="11" lengthAdjust="spacingAndGlyphs">76</text>
<text x="869.5" y="112" textLength="12" lengthAdjust="spacingAndGlyphs">33</text>
<text x="815.5" y="135.5" textLength="11" lengthAdjust="spacingAndGlyphs">12</text>
<text x="761.5" y="427.5" textLength="12" lengthAdjust="spacingAndGlyphs">36</text>
<text x="844" y="456.5" textLength="12" lengthAdjust="spacingAndGlyphs">45</text>
<text x="896" y="456.5" textLength="5.5" lengthAdjust="spacingAndGlyphs">3</text>
</g>
<!-- d5 -->
<rect x="505.9" y="519.9" width="262" height="262.9" rx="5" ry="5" fill="none" stroke="#1e1e1e" stroke-width="1.8"/>
<g stroke="#1e1e1e" fill="none"><circle cx="526.6" cy="540.4" r="13.6" stroke-width="0.9"/><circle cx="526.6" cy="540.4" r="10" stroke-width="1.6"/><circle cx="526.6" cy="540.4" r="5" stroke-width="0.9"/><circle cx="526.6" cy="540.4" r="2.4" stroke-width="0.8"/></g>
<g stroke="#1e1e1e" fill="none"><circle cx="748.7" cy="540.4" r="13.6" stroke-width="0.9"/><circle cx="748.7" cy="540.4" r="10" stroke-width="1.6"/><circle cx="748.7" cy="540.4" r="5" stroke-width="0.9"/><circle cx="748.7" cy="540.4" r="2.4" stroke-width="0.8"/></g>
<g stroke="#1e1e1e" fill="none"><circle cx="526.6" cy="761.6" r="13.6" stroke-width="0.9"/><circle cx="526.6" cy="761.6" r="10" stroke-width="1.6"/><circle cx="526.6" cy="761.6" r="5" stroke-width="0.9"/><circle cx="526.6" cy="761.6" r="2.4" stroke-width="0.8"/></g>
<g stroke="#1e1e1e" fill="none"><circle cx="748.7" cy="761.6" r="13.6" stroke-width="0.9"/><circle cx="748.7" cy="761.6" r="10" stroke-width="1.6"/><circle cx="748.7" cy="761.6" r="5" stroke-width="0.9"/><circle cx="748.7" cy="761.6" r="2.4" stroke-width="0.8"/></g>
<path d="M 527.37,576.24 A 133 133 0 0 1 537.58,563.02" stroke="#1e1e1e" stroke-width="0.9" fill="none"/>
<path d="M 549.89,550.73 A 133 133 0 0 1 562.94,540.67" stroke="#1e1e1e" stroke-width="0.9" fill="none"/>
<path d="M 712.06,540.67 A 133 133 0 0 1 725.28,550.88" stroke="#1e1e1e" stroke-width="0.9" fill="none"/>
<path d="M 737.57,563.19 A 133 133 0 0 1 747.63,576.24" stroke="#1e1e1e" stroke-width="0.9" fill="none"/>
<path d="M 747.63,725.36 A 133 133 0 0 1 737.42,738.58" stroke="#1e1e1e" stroke-width="0.9" fill="none"/>
<path d="M 725.11,750.87 A 133 133 0 0 1 712.06,760.93" stroke="#1e1e1e" stroke-width="0.9" fill="none"/>
<path d="M 562.94,760.93 A 133 133 0 0 1 549.72,750.72" stroke="#1e1e1e" stroke-width="0.9" fill="none"/>
<path d="M 537.43,738.41 A 133 133 0 0 1 527.37,725.36" stroke="#1e1e1e" stroke-width="0.9" fill="none"/>
<g stroke="#1e1e1e" stroke-width="1" fill="#fff">
<rect x="676.5" y="649.1999999999999" width="83" height="3.2"/>
<rect x="515.5" y="649.1999999999999" width="83" height="3.2"/>
<rect x="635.9" y="528.8" width="3.2" height="83"/>
<rect x="635.9" y="689.8" width="3.2" height="83"/>
</g>
<g fill="none">
<circle cx="637.5" cy="650.8" r="31.50" stroke="#2c2c2c" stroke-width="3.3"/>
<circle cx="637.5" cy="650.8" r="37.85" stroke="#2c2c2c" stroke-width="3.3"/>
<circle cx="637.5" cy="650.8" r="44.20" stroke="#2c2c2c" stroke-width="3.3"/>
<circle cx="637.5" cy="650.8" r="50.55" stroke="#2c2c2c" stroke-width="3.3"/>
<circle cx="637.5" cy="650.8" r="56.90" stroke="#2c2c2c" stroke-width="3.3"/>
<circle cx="637.5" cy="650.8" r="63.25" stroke="#2c2c2c" stroke-width="3.3"/>
<circle cx="637.5" cy="650.8" r="69.60" stroke="#2c2c2c" stroke-width="3.3"/>
<circle cx="637.5" cy="650.8" r="75.95" stroke="#2c2c2c" stroke-width="3.3"/>
<circle cx="637.5" cy="650.8" r="82.30" stroke="#2c2c2c" stroke-width="3.3"/>
<circle cx="637.5" cy="650.8" r="88.65" stroke="#2c2c2c" stroke-width="3.3"/>
<circle cx="637.5" cy="650.8" r="95.00" stroke="#2c2c2c" stroke-width="3.3"/>
<circle cx="637.5" cy="650.8" r="101.35" stroke="#2c2c2c" stroke-width="3.3"/>
<circle cx="637.5" cy="650.8" r="107.70" stroke="#2c2c2c" stroke-width="3.3"/>
<circle cx="637.5" cy="650.8" r="114.05" stroke="#2c2c2c" stroke-width="3.3"/>
<circle cx="637.5" cy="650.8" r="118.40" stroke="#2c2c2c" stroke-width="3.3"/>
<circle cx="637.5" cy="650.8" r="122.00" stroke="#2c2c2c" stroke-width="3.3"/>
<circle cx="637.5" cy="650.8" r="31.50" stroke="#fff" stroke-width="0.85"/>
<circle cx="637.5" cy="650.8" r="37.85" stroke="#fff" stroke-width="0.85"/>
<circle cx="637.5" cy="650.8" r="44.20" stroke="#fff" stroke-width="0.85"/>
<circle cx="637.5" cy="650.8" r="50.55" stroke="#fff" stroke-width="0.85"/>
<circle cx="637.5" cy="650.8" r="56.90" stroke="#fff" stroke-width="0.85"/>
<circle cx="637.5" cy="650.8" r="63.25" stroke="#fff" stroke-width="0.85"/>
<circle cx="637.5" cy="650.8" r="69.60" stroke="#fff" stroke-width="0.85"/>
<circle cx="637.5" cy="650.8" r="75.95" stroke="#fff" stroke-width="0.85"/>
<circle cx="637.5" cy="650.8" r="82.30" stroke="#fff" stroke-width="0.85"/>
<circle cx="637.5" cy="650.8" r="88.65" stroke="#fff" stroke-width="0.85"/>
<circle cx="637.5" cy="650.8" r="95.00" stroke="#fff" stroke-width="0.85"/>
<circle cx="637.5" cy="650.8" r="101.35" stroke="#fff" stroke-width="0.85"/>
<circle cx="637.5" cy="650.8" r="107.70" stroke="#fff" stroke-width="0.85"/>
<circle cx="637.5" cy="650.8" r="114.05" stroke="#fff" stroke-width="0.85"/>
<circle cx="637.5" cy="650.8" r="118.40" stroke="#fff" stroke-width="0.85"/>
<circle cx="637.5" cy="650.8" r="122.00" stroke="#fff" stroke-width="0.85"/>
</g>
<path d="M 626.39,614.46 C 625.87,611.66 624.08,603.15 623.26,597.67 C 622.45,592.20 620.10,587.74 621.53,581.62 C 622.96,575.50 628.43,566.76 631.85,560.98 C 635.27,555.19 640.34,549.25 642.04,546.90" stroke="#1e1e1e" stroke-width="0.9" fill="none"/>
<path d="M 618.00,622.95 C 615.42,620.52 607.36,613.03 602.52,608.36 C 597.67,603.69 592.66,599.45 588.95,594.95 C 585.24,590.45 582.35,586.07 580.25,581.35 C 578.16,576.64 577.02,569.11 576.37,566.66" stroke="#1e1e1e" stroke-width="0.9" fill="none"/>
<path d="M 668.63,629.00 C 671.13,627.64 678.67,623.31 683.63,620.84 C 688.58,618.38 692.10,614.76 698.36,614.23 C 704.62,613.70 714.62,616.21 721.18,617.67 C 727.74,619.13 734.96,622.12 737.72,623.01" stroke="#1e1e1e" stroke-width="0.9" fill="none"/>
<path d="M 657.96,623.65 C 659.48,620.44 664.11,610.46 667.05,604.41 C 669.99,598.37 672.48,592.29 675.61,587.37 C 678.75,582.45 682.02,578.35 685.86,574.89 C 689.69,571.44 696.50,568.03 698.63,566.66" stroke="#1e1e1e" stroke-width="0.9" fill="none"/>
<path d="M 667.85,673.67 C 669.91,675.63 676.37,681.46 680.24,685.41 C 684.12,689.36 688.65,691.59 691.08,697.38 C 693.52,703.17 694.23,713.46 694.87,720.15 C 695.50,726.84 694.90,734.63 694.90,737.52" stroke="#1e1e1e" stroke-width="0.9" fill="none"/>
<path d="M 669.65,661.87 C 673.16,662.32 684.09,663.64 690.75,664.57 C 697.41,665.50 703.96,665.99 709.60,667.45 C 715.25,668.91 720.17,670.75 724.63,673.33 C 729.10,675.92 734.45,681.34 736.41,682.94" stroke="#1e1e1e" stroke-width="0.9" fill="none"/>
<path d="M 625.13,686.73 C 623.91,689.30 620.35,697.24 617.79,702.15 C 615.23,707.05 614.51,712.05 609.76,716.16 C 605.01,720.26 595.44,724.12 589.28,726.79 C 583.11,729.46 575.51,731.29 572.76,732.19" stroke="#1e1e1e" stroke-width="0.9" fill="none"/>
<path d="M 636.91,684.79 C 637.57,688.28 639.68,699.08 640.86,705.70 C 642.03,712.32 643.59,718.70 643.95,724.52 C 644.31,730.34 644.07,735.59 642.99,740.63 C 641.92,745.68 638.42,752.44 637.50,754.80" stroke="#1e1e1e" stroke-width="0.9" fill="none"/>
<path d="M 599.51,650.14 C 596.68,649.77 588.03,648.84 582.58,647.92 C 577.12,647.00 572.14,647.86 566.77,644.61 C 561.40,641.36 554.77,633.46 550.33,628.42 C 545.88,623.38 541.79,616.72 540.09,614.38" stroke="#1e1e1e" stroke-width="0.9" fill="none"/>
<path d="M 604.99,660.74 C 601.88,662.44 592.26,667.80 586.33,670.96 C 580.39,674.12 574.81,677.58 569.38,679.71 C 563.96,681.85 558.89,683.25 553.76,683.79 C 548.63,684.32 541.12,683.08 538.59,682.94" stroke="#1e1e1e" stroke-width="0.9" fill="none"/>
<g transform="translate(637.5,650.8) rotate(-45)"><path d="M -4.2,-130 L -4.2,-30 M 4.2,-130 L 4.2,-30" fill="none" stroke="#1e1e1e" stroke-width="1"/><path d="M -1.3,-128 L -1.3,-32 M 1.3,-128 L 1.3,-32" fill="none" stroke="#1e1e1e" stroke-width="0.7"/><path d="M -4.2,-130 A 4.2 4.2 0 0 1 4.2,-130" fill="none" stroke="#1e1e1e" stroke-width="1"/><circle cx="0" cy="-133" r="4" fill="#fff" stroke="#1e1e1e" stroke-width="2.6"/><path d="M -2,-133 L 2,-133 M 0,-135 L 0,-131" stroke="#1e1e1e" stroke-width="0.8"/></g>
<g transform="translate(637.5,650.8) rotate(45)"><path d="M -4.2,-130 L -4.2,-30 M 4.2,-130 L 4.2,-30" fill="none" stroke="#1e1e1e" stroke-width="1"/><path d="M -1.3,-128 L -1.3,-32 M 1.3,-128 L 1.3,-32" fill="none" stroke="#1e1e1e" stroke-width="0.7"/><path d="M -4.2,-130 A 4.2 4.2 0 0 1 4.2,-130" fill="none" stroke="#1e1e1e" stroke-width="1"/><circle cx="0" cy="-133" r="4" fill="#fff" stroke="#1e1e1e" stroke-width="2.6"/><path d="M -2,-133 L 2,-133 M 0,-135 L 0,-131" stroke="#1e1e1e" stroke-width="0.8"/></g>
<g transform="translate(637.5,650.8) rotate(135)"><path d="M -4.2,-130 L -4.2,-30 M 4.2,-130 L 4.2,-30" fill="none" stroke="#1e1e1e" stroke-width="1"/><path d="M -1.3,-128 L -1.3,-32 M 1.3,-128 L 1.3,-32" fill="none" stroke="#1e1e1e" stroke-width="0.7"/><path d="M -4.2,-130 A 4.2 4.2 0 0 1 4.2,-130" fill="none" stroke="#1e1e1e" stroke-width="1"/><circle cx="0" cy="-133" r="4" fill="#fff" stroke="#1e1e1e" stroke-width="2.6"/><path d="M -2,-133 L 2,-133 M 0,-135 L 0,-131" stroke="#1e1e1e" stroke-width="0.8"/></g>
<g transform="translate(637.5,650.8) rotate(225)"><path d="M -4.2,-130 L -4.2,-30 M 4.2,-130 L 4.2,-30" fill="none" stroke="#1e1e1e" stroke-width="1"/><path d="M -1.3,-128 L -1.3,-32 M 1.3,-128 L 1.3,-32" fill="none" stroke="#1e1e1e" stroke-width="0.7"/><path d="M -4.2,-130 A 4.2 4.2 0 0 1 4.2,-130" fill="none" stroke="#1e1e1e" stroke-width="1"/><circle cx="0" cy="-133" r="4" fill="#fff" stroke="#1e1e1e" stroke-width="2.6"/><path d="M -2,-133 L 2,-133 M 0,-135 L 0,-131" stroke="#1e1e1e" stroke-width="0.8"/></g>
<g transform="translate(637.5,650.8) rotate(-45)"><line x1="0" y1="-138" x2="0" y2="-158" stroke="#1e1e1e" stroke-width="0.9"/></g>
<g transform="translate(637.5,650.8) rotate(45)"><line x1="0" y1="-138" x2="0" y2="-158" stroke="#1e1e1e" stroke-width="0.9"/></g>
<g transform="translate(637.5,650.8) rotate(135)"><line x1="0" y1="-138" x2="0" y2="-158" stroke="#1e1e1e" stroke-width="0.9"/></g>
<g transform="translate(637.5,650.8) rotate(225)"><line x1="0" y1="-138" x2="0" y2="-158" stroke="#1e1e1e" stroke-width="0.9"/></g>
<circle cx="637.5" cy="650.8" r="25" fill="#fff" stroke="#1e1e1e" stroke-width="2"/>
<circle cx="637.5" cy="650.8" r="22.5" fill="none" stroke="#1e1e1e" stroke-width="0.8"/>
<rect x="621" y="643.5" width="33.1" height="15.2" fill="none" stroke="#1e1e1e" stroke-width="1.2"/>
<circle cx="637.5" cy="634.8" r="2.2" fill="#1e1e1e"/><circle cx="637.5" cy="671.7" r="2.2" fill="#1e1e1e"/>
<circle cx="615.5" cy="628.8" r="3.3" fill="#fff" stroke="#1e1e1e" stroke-width="2.5"/>
<circle cx="659.6" cy="628.8" r="3.3" fill="#fff" stroke="#1e1e1e" stroke-width="2.5"/>
<circle cx="615.5" cy="672.8" r="3.3" fill="#fff" stroke="#1e1e1e" stroke-width="2.5"/>
<circle cx="659.6" cy="672.8" r="3.3" fill="#fff" stroke="#1e1e1e" stroke-width="2.5"/>
<g fill="#fff" stroke="#1e1e1e" stroke-width="1"><rect x="624.8" y="629.3" width="25.5" height="3.3"/><rect x="625.9" y="624.5" width="11.4" height="4.8"/><rect x="627" y="619.6" width="9.7" height="4.9"/></g>
<line x1="781" y1="479" x2="725.5" y2="546" stroke="#1e1e1e" stroke-width="0.9"/>
<g transform="translate(724.5,548) rotate(-50.3)"><rect x="0" y="-1.5" width="7.5" height="3" rx="1.5" fill="#1e1e1e"/></g>
<g transform="translate(756.1,503.1) rotate(-50.3)" font-family="Liberation Sans, sans-serif" font-size="10.5" fill="#1e1e1e"><circle cx="3.6" cy="-3.6" r="3.1" fill="none" stroke="#1e1e1e" stroke-width="0.9"/><line x1="0" y1="0.2" x2="7.4" y2="-7.6" stroke="#1e1e1e" stroke-width="0.9"/><text x="13.8" y="0" textLength="21.5" lengthAdjust="spacingAndGlyphs">502</text></g>
</svg>
</body></html>
